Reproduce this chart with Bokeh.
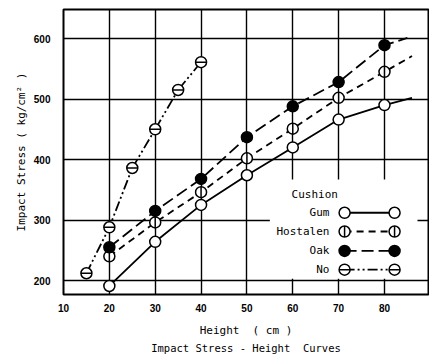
import numpy as np
from bokeh.plotting import figure
from bokeh.models import Title, FixedTicker
from bokeh.core.properties import value
from bokeh.embed import file_html
from bokeh.resources import INLINE

# ---- data ----
gum_x = [20, 30, 40, 50, 60, 70, 80]
gum_y = [191, 264, 325, 374, 420, 466, 490]
gum_curve_x = [20, 30, 40, 50, 60, 70, 80, 86]
gum_curve_y = [191, 264, 325, 374, 420, 466, 490, 502]

hos_x = [20, 30, 40, 50, 60, 70, 80]
hos_y = [240, 296, 346, 402, 451, 502, 545]
hos_curve_x = [20, 30, 40, 50, 60, 70, 80, 86]
hos_curve_y = [240, 296, 346, 402, 451, 502, 545, 571]

oak_x = [20, 30, 40, 50, 60, 70, 80]
oak_y = [255, 315, 368, 437, 488, 528, 589]
oak_curve_x = [20, 30, 40, 50, 60, 70, 80, 85]
oak_curve_y = [255, 315, 368, 437, 488, 528, 589, 601]

no_x = [15, 20, 25, 30, 35, 40]
no_y = [212, 288, 386, 450, 515, 561]

x_ticks = [10, 20, 30, 40, 50, 60, 70, 80]
y_ticks = [200, 300, 400, 500, 600]
legend_labels = ["Gum", "Hostalen", "Oak", "No"]

NB = "\u00a0"
MONO = value("DejaVu Sans Mono")

p = figure(width=429, height=355, output_backend="svg", toolbar_location=None,
           x_range=(10, 89.6), y_range=(176.9, 648),
           min_border_left=63, min_border_right=1, min_border_top=9, min_border_bottom=61)
p.background_fill_color = "white"
p.border_fill_color = "white"
p.outline_line_color = "black"
p.outline_line_width = 2

for ax in (p.xaxis, p.yaxis):
    ax.axis_line_color = None
    ax.major_tick_line_color = None
    ax.minor_tick_line_color = None
    ax.major_tick_out = 0
    ax.major_tick_in = 0
    ax.minor_tick_out = 0
    ax.minor_tick_in = 0
    ax.major_label_text_font = "Liberation Sans"
    ax.major_label_text_font_style = "bold"
    ax.major_label_text_font_size = "10px"
    ax.major_label_text_color = "black"
    ax.axis_label_text_font = "DejaVu Sans Mono"
    ax.axis_label_text_font_style = "normal"
    ax.axis_label_text_font_size = "11px"
    ax.axis_label_text_color = "black"
p.xaxis.ticker = FixedTicker(ticks=x_ticks)
p.yaxis.ticker = FixedTicker(ticks=y_ticks)
p.xaxis.major_label_standoff = 9
p.yaxis.major_label_standoff = 13
p.xaxis.axis_label = "Height" + NB + NB + "(" + NB + "cm" + NB + ")"
p.yaxis.axis_label = "Impact Stress ( kg/cm\u00b2 )"
p.xaxis.axis_label_standoff = 9
p.yaxis.axis_label_standoff = 3

for g in (p.xgrid, p.ygrid):
    g.grid_line_color = "black"
    g.grid_line_width = 1.4
    g.grid_line_alpha = 1
p.xgrid.ticker = FixedTicker(ticks=x_ticks)
p.ygrid.ticker = FixedTicker(ticks=y_ticks)

cap = Title(text="Impact Stress - Height" + NB + NB + "Curves", align="center",
            text_font="DejaVu Sans Mono", text_font_size="10.5px",
            text_font_style="normal", text_color="black", standoff=0)
p.add_layout(cap, "below")

LW = 1.8
MS = 11
# curves
p.line(gum_curve_x, gum_curve_y, line_color="black", line_width=LW)
p.line(hos_curve_x, hos_curve_y, line_color="black", line_width=LW, line_dash="7 5")
p.line(oak_curve_x, oak_curve_y, line_color="black", line_width=LW, line_dash="12 5")
p.line(no_x, no_y, line_color="black", line_width=LW, line_dash="10 3 2 3 2 3")

def marker_set(xs, ys, kind):
    if kind == "oak":
        p.scatter(xs, ys, size=MS, fill_color="black", line_color="black", line_width=1.5)
        return
    p.scatter(xs, ys, size=MS, fill_color="white", line_color="black", line_width=1.5)
    if kind == "hos":
        p.scatter(xs, ys, marker="dash", size=MS, angle=np.pi / 2, line_color="black", line_width=1.5)
    elif kind == "no":
        p.scatter(xs, ys, marker="dash", size=MS, line_color="black", line_width=1.5)

marker_set(gum_x, gum_y, "gum")
marker_set(hos_x, hos_y, "hos")
marker_set(oak_x, oak_y, "oak")
marker_set(no_x, no_y, "no")

# ---- manual legend (label left, sample right) ----
p.quad(left=[55.0], right=[87.2], bottom=[203], top=[367], fill_color="white", line_color=None)
p.text(x=[64.8], y=[343], text=["Cushion"], text_font=MONO, text_font_size="11px",
       text_align="center", text_baseline="middle", text_color="black")
row_y = [312, 281, 249, 218]
dashes = ["solid", "7 5", "12 5", "10 3 2 3 2 3"]
kinds = ["gum", "hos", "oak", "no"]
lab_x = 68.0
s0, s1 = 71.3, 82.2
p.text(x=[lab_x] * 4, y=row_y, text=legend_labels, text_font=MONO, text_font_size="11px",
       text_align="right", text_baseline="middle", text_color="black")
for yy, d, k in zip(row_y, dashes, kinds):
    p.line([s0, s1], [yy, yy], line_color="black", line_width=LW, line_dash=d)
    marker_set([s0, s1], [yy, yy], k)

open("out.html", "w").write(file_html(p, INLINE))
